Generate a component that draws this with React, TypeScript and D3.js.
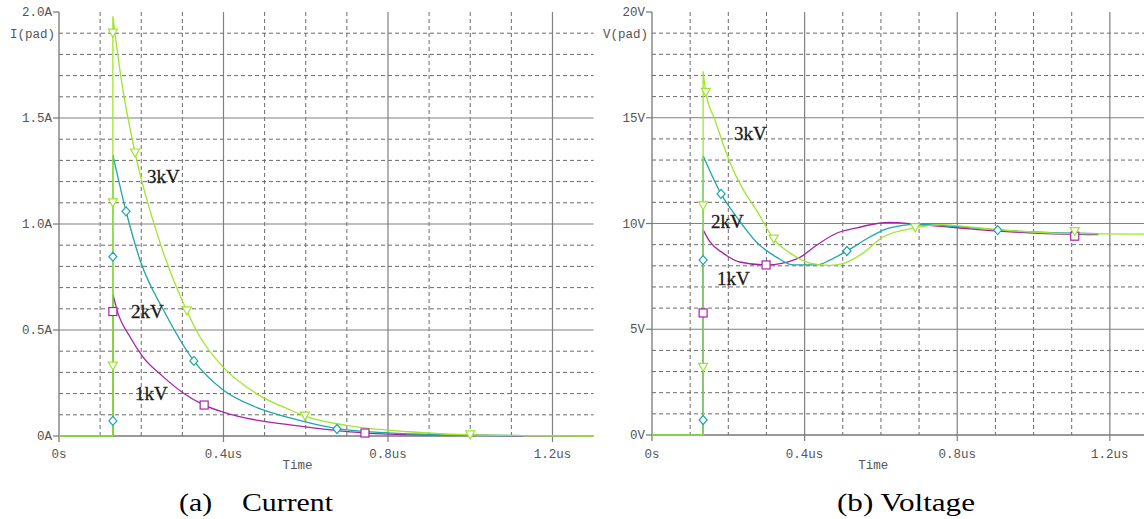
import React from 'react';
import * as d3 from 'd3';

// colours of the three surge levels
const GREEN = '#9ee62c';
const CYAN = '#1ea5aa';
const MAGENTA = '#a822a8';

// ---- (a) current, I(pad) in A vs time in us ----
const iTicks = [0, 0.5, 1.0, 1.5, 2.0];
const iTickLabels = ['0A', '0.5A', '1.0A', '1.5A', '2.0A'];

const i3kvT = [0.131, 0.15, 0.185, 0.246, 0.311, 0.343, 0.399, 0.48, 0.562, 0.598, 0.7, 0.85, 1.0, 1.13, 1.3];
const i3kv = [1.98, 1.7, 1.335, 0.91, 0.59, 0.467, 0.325, 0.2, 0.123, 0.094, 0.05, 0.02, 0.005, 0.002, 0.0];
const i2kvT = [0.131, 0.163, 0.197, 0.258, 0.328, 0.399, 0.48, 0.562, 0.676, 0.8, 0.95, 1.13];
const i2kv = [1.325, 1.06, 0.83, 0.58, 0.354, 0.217, 0.135, 0.085, 0.035, 0.015, 0.006, 0.002];
const i1kvT = [0.131, 0.141, 0.173, 0.204, 0.253, 0.302, 0.353, 0.399, 0.48, 0.562, 0.744, 0.9, 1.13];
const i1kv = [0.67, 0.594, 0.467, 0.373, 0.28, 0.203, 0.146, 0.113, 0.075, 0.052, 0.014, 0.005, 0.001];

// marker positions (t, value)
const i3kvMarkT = [0.131, 0.131, 0.131, 0.185, 0.311, 0.598, 1.0];
const i3kvMark = [1.9, 1.1, 0.33, 1.335, 0.59, 0.094, 0.005];
const i2kvMarkT = [0.131, 0.131, 0.163, 0.328, 0.676];
const i2kvMark = [0.846, 0.071, 1.06, 0.354, 0.033];
const i1kvMarkT = [0.131, 0.353, 0.744];
const i1kvMark = [0.587, 0.146, 0.014];

// ---- (b) voltage, V(pad) in V vs time in us ----
const vTicks = [0, 5, 10, 15, 20];
const vTickLabels = ['0V', '5V', '10V', '15V', '20V'];

const v3kvT = [0.134, 0.141, 0.165, 0.204, 0.239, 0.275, 0.319, 0.362, 0.414, 0.466, 0.5, 0.553, 0.605, 0.69, 0.76, 0.85, 0.95, 1.1, 1.3];
const v3kv = [17.2, 16.2, 14.9, 12.9, 11.6, 10.6, 9.26, 8.6, 8.13, 8.02, 8.1, 8.6, 9.36, 9.8, 9.95, 9.8, 9.65, 9.52, 9.5];
const v2kvT = [0.134, 0.181, 0.222, 0.275, 0.327, 0.37, 0.432, 0.466, 0.511, 0.571, 0.623, 0.7, 0.8, 0.906, 1.0, 1.17];
const v2kv = [13.2, 11.4, 10.3, 9.1, 8.4, 8.04, 8.04, 8.27, 8.7, 9.36, 9.79, 9.97, 9.85, 9.69, 9.6, 9.52];
const v1kvT = [0.134, 0.152, 0.186, 0.23, 0.299, 0.343, 0.388, 0.432, 0.485, 0.537, 0.59, 0.623, 0.7, 0.8, 0.9, 1.0, 1.17];
const v1kv = [9.7, 9.13, 8.6, 8.18, 8.04, 8.13, 8.4, 8.98, 9.55, 9.79, 10.0, 10.05, 9.95, 9.8, 9.65, 9.55, 9.47];

const v3kvMarkT = [0.134, 0.134, 0.141, 0.319, 0.69, 1.108];
const v3kvMark = [10.83, 3.2, 16.2, 9.26, 9.8, 9.62];
const v2kvMarkT = [0.134, 0.134, 0.181, 0.511, 0.906];
const v2kvMark = [8.27, 0.71, 11.4, 8.7, 9.69];
const v1kvMarkT = [0.134, 0.299, 1.108];
const v1kvMark = [5.77, 8.04, 9.4];

const xMajor = [0, 0.4, 0.8, 1.2];
const xMajorLabels = ['0s', '0.4us', '0.8us', '1.2us'];

type Series = {
  color: string;
  t: number[];
  v: number[];
  mt: number[];
  mv: number[];
  marker: 'tri' | 'dia' | 'sq';
  label: string;
  lx: number;
  ly: number;
};

type PanelCfg = {
  x0: number;
  x1: number;
  yTop: number;
  yBot: number;
  yMax: number;
  yStep: number;
  yTicks: number[];
  yTickLabels: string[];
  yName: string;
  series: Series[];
  caption: string;
  capX: number;
  capW: number;
};

const mono = '"Liberation Mono", "DejaVu Sans Mono", monospace';
const serif = '"Liberation Serif", "Times New Roman", serif';

function Marker({ kind, x, y, color }: { kind: string; x: number; y: number; color: string }) {
  if (kind === 'tri') {
    return <path d={`M${x - 4.5},${y - 4}L${x + 4.5},${y - 4}L${x},${y + 4}Z`} fill="#fff" stroke={color} strokeWidth={1.2} />;
  }
  if (kind === 'dia') {
    return <path d={`M${x},${y - 4.5}L${x + 4},${y}L${x},${y + 4.5}L${x - 4},${y}Z`} fill="#fff" stroke={color} strokeWidth={1.2} />;
  }
  return <rect x={x - 4} y={y - 4} width={8} height={8} fill="#fff" stroke={color} strokeWidth={1.2} />;
}

function Panel({ cfg }: { cfg: PanelCfg }) {
  const x = d3.scaleLinear().domain([0, 1.3]).range([cfg.x0, cfg.x1]);
  const y = d3.scaleLinear().domain([0, cfg.yMax]).range([cfg.yBot, cfg.yTop]);
  const minorX = d3.range(1, 13).map((i) => i / 10).filter((t) => Math.abs(t / 0.4 - Math.round(t / 0.4)) > 1e-6);
  const nMinor = Math.round(cfg.yMax / cfg.yStep);
  const minorY = d3.range(1, nMinor).map((i) => i * cfg.yStep).filter((_, i) => (i + 1) % 5 !== 0);
  const majorY = cfg.yTicks.slice(1, -1);

  const line = d3
    .line<[number, number]>()
    .x((d) => x(d[0]))
    .y((d) => y(d[1]))
    .curve(d3.curveMonotoneX);

  const pathFor = (s: Series) => {
    const pts = s.t.map((t, i) => [t, s.v[i]] as [number, number]);
    const d = line(pts) || '';
    return `M${x(0)},${y(0)}L${x(s.t[0])},${y(0)}L${d.slice(1)}`;
  };

  const xMid = x(0.58);
  return (
    <g>
      {/* dashed minor grid */}
      {minorY.map((v) => (
        <line key={'hy' + v} x1={cfg.x0} x2={cfg.x1} y1={y(v)} y2={y(v)} stroke="#6a6a6a" strokeDasharray="4,3" strokeWidth={1} />
      ))}
      {minorX.map((t) => (
        <line key={'vx' + t} x1={x(t)} x2={x(t)} y1={cfg.yTop} y2={cfg.yBot} stroke="#6a6a6a" strokeDasharray="4,3" strokeWidth={1} />
      ))}
      {/* solid major grid */}
      {majorY.map((v) => (
        <line key={'my' + v} x1={cfg.x0} x2={cfg.x1} y1={y(v)} y2={y(v)} stroke="#808080" strokeWidth={1.2} />
      ))}
      {xMajor.slice(1).map((t) => (
        <line key={'mx' + t} x1={x(t)} x2={x(t)} y1={cfg.yTop} y2={cfg.yBot + 6} stroke="#808080" strokeWidth={1.2} />
      ))}
      {/* axes */}
      <line x1={cfg.x0} x2={cfg.x0} y1={cfg.yTop} y2={cfg.yBot + 6} stroke="#777" strokeWidth={1.3} />
      <line x1={cfg.x0} x2={cfg.x1} y1={cfg.yBot} y2={cfg.yBot} stroke="#777" strokeWidth={1.3} />
      {cfg.yTicks.map((v) => (
        <line key={'ty' + v} x1={cfg.x0 - 6} x2={cfg.x0} y1={y(v)} y2={y(v)} stroke="#777" strokeWidth={1.2} />
      ))}
      {cfg.yTicks.map((v, i) => (
        <text key={'ly' + v} x={cfg.x0 - 7} y={y(v) + 4} textAnchor="end" fontFamily={mono} fontSize={12.5} fill="#555">
          {cfg.yTickLabels[i]}
        </text>
      ))}
      <text x={cfg.x0 - 4} y={y(cfg.yMax) + 26} textAnchor="end" fontFamily={mono} fontSize={12.5} fill="#555">
        {cfg.yName}
      </text>
      {xMajor.map((t, i) => (
        <text key={'lx' + t} x={x(t)} y={458} textAnchor="middle" fontFamily={mono} fontSize={12.5} fill="#555">
          {xMajorLabels[i]}
        </text>
      ))}
      <text x={xMid} y={469} textAnchor="middle" fontFamily={mono} fontSize={12.5} fill="#555">
        Time
      </text>

      {/* traces */}
      {cfg.series.map((s) => (
        <path key={'p' + s.label} d={pathFor(s)} fill="none" stroke={s.color} strokeWidth={1.3} />
      ))}
      {cfg.series.map((s) =>
        s.mt.map((t, i) => <Marker key={s.label + 'm' + i} kind={s.marker} x={x(t)} y={y(s.mv[i])} color={s.color} />)
      )}
      {cfg.series.map((s) => (
        <text key={'t' + s.label} x={s.lx} y={s.ly} fontFamily={serif} fontSize={19} fill="#111" stroke="#333" strokeWidth={0.3}>
          {s.label}
        </text>
      ))}

      <text x={cfg.capX} y={511} fontFamily={serif} fontSize={26} fill="#000" textLength={cfg.capW} lengthAdjust="spacingAndGlyphs">
        {cfg.caption}
      </text>
    </g>
  );
}

const currentPanel: PanelCfg = {
  x0: 59,
  x1: 593.6,
  yTop: 12,
  yBot: 436,
  yMax: 2,
  yStep: 0.1,
  yTicks: iTicks,
  yTickLabels: iTickLabels,
  yName: 'I(pad)',
  caption: '(a)\u00a0\u00a0\u00a0\u00a0Current',
  capX: 179,
  capW: 154,
  series: [
    { color: MAGENTA, t: i1kvT, v: i1kv, mt: i1kvMarkT, mv: i1kvMark, marker: 'sq', label: '1kV', lx: 135, ly: 400 },
    { color: CYAN, t: i2kvT, v: i2kv, mt: i2kvMarkT, mv: i2kvMark, marker: 'dia', label: '2kV', lx: 131, ly: 318 },
    { color: GREEN, t: i3kvT, v: i3kv, mt: i3kvMarkT, mv: i3kvMark, marker: 'tri', label: '3kV', lx: 147, ly: 183 },
  ],
};

const voltagePanel: PanelCfg = {
  x0: 652,
  x1: 1148,
  yTop: 12,
  yBot: 435,
  yMax: 20,
  yStep: 1,
  yTicks: vTicks,
  yTickLabels: vTickLabels,
  yName: 'V(pad)',
  caption: '(b) Voltage',
  capX: 837,
  capW: 138,
  series: [
    { color: MAGENTA, t: v1kvT, v: v1kv, mt: v1kvMarkT, mv: v1kvMark, marker: 'sq', label: '1kV', lx: 717, ly: 285 },
    { color: CYAN, t: v2kvT, v: v2kv, mt: v2kvMarkT, mv: v2kvMark, marker: 'dia', label: '2kV', lx: 711, ly: 228 },
    { color: GREEN, t: v3kvT, v: v3kv, mt: v3kvMarkT, mv: v3kvMark, marker: 'tri', label: '3kV', lx: 734, ly: 140 },
  ],
};

export default function App() {
  return (
    <div style={{ position: 'absolute', left: 0, top: 0 }}>
      <svg width={1144} height={519} style={{ display: 'block', background: '#fff' }}>
        <Panel cfg={currentPanel} />
        <Panel cfg={voltagePanel} />
      </svg>
    </div>
  );
}
